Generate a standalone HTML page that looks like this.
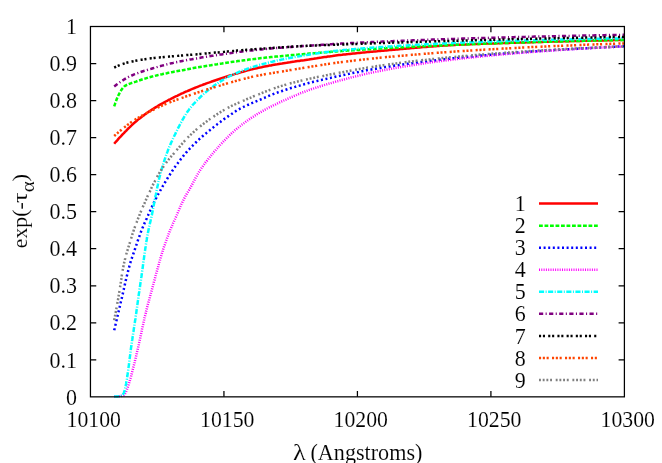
<!DOCTYPE html>
<html><head><meta charset="utf-8"><title>plot</title>
<style>
html,body{margin:0;padding:0;background:#fff;}
svg{display:block;}
text{font-family:"Liberation Serif",serif;font-size:22px;fill:#000;stroke:#fff;stroke-width:0.1px;}
</style></head><body>
<div style="width:662px;height:463px;overflow:hidden;will-change:transform">
<svg width="662" height="463" viewBox="0 0 662 463">
<rect width="662" height="463" fill="#fff"/>
<g fill="none" stroke-width="2.50" stroke-linejoin="round">
<path stroke="#ff0000" d="M114.2 143.7L115.2 142.5L116.3 141.3L117.4 140.1L118.4 138.9L119.5 137.7L120.6 136.6L121.7 135.4L122.8 134.2L123.9 133.1L125 131.9L126.1 130.8L127.2 129.6L128.3 128.5L129.5 127.4L130.6 126.3L131.8 125.2L132.9 124.1L134.1 123L135.3 122L136.5 121L137.8 119.9L139 118.9L140.3 118L141.5 117L142.8 116L144.1 115.1L145.4 114.1L146.7 113.2L148 112.3L149.3 111.4L150.6 110.5L152 109.6L153.3 108.8L154.7 107.9L156 107.1L157.4 106.3L158.8 105.4L160.1 104.6L161.5 103.8L162.9 103.1L164.3 102.3L165.7 101.5L167.1 100.8L168.5 100L170 99.3L171.4 98.6L172.8 97.9L174.2 97.1L175.7 96.4L177.1 95.8L178.5 95.1L180 94.4L181.4 93.7L182.9 93.1L184.3 92.4L185.8 91.7L187.3 91.1L188.7 90.5L190.2 89.8L191.7 89.2L193.1 88.6L194.6 88L196.1 87.4L197.6 86.8L199.1 86.2L200.5 85.6L202 85.1L203.5 84.5L205 84L206.5 83.4L208 82.9L209.5 82.4L211.1 81.8L212.6 81.3L214.1 80.8L215.6 80.3L217.1 79.8L218.6 79.3L220.1 78.8L221.6 78.3L223.2 77.8L224.7 77.3L226.2 76.8L227.7 76.3L229.2 75.8L230.8 75.3L232.3 74.9L233.8 74.4L235.3 73.9L236.9 73.5L238.4 73L239.9 72.6L241.5 72.1L243 71.7L244.5 71.3L246.1 70.9L247.6 70.4L249.2 70L250.7 69.6L252.3 69.3L253.8 68.9L255.4 68.5L256.9 68.2L258.5 67.8L260 67.5L261.6 67.2L263.2 66.8L264.7 66.5L266.3 66.2L267.9 65.9L269.4 65.6L271 65.4L272.6 65.1L274.1 64.8L275.7 64.5L277.3 64.3L278.9 64L280.4 63.7L282 63.5L283.6 63.2L285.2 63L286.7 62.8L288.3 62.5L289.9 62.3L291.5 62L293.1 61.8L294.6 61.6L296.2 61.3L297.8 61.1L299.4 60.9L301 60.6L302.5 60.4L304.1 60.2L305.7 59.9L307.3 59.7L308.8 59.5L310.4 59.2L312 59L313.6 58.8L315.2 58.5L316.7 58.3L318.3 58L319.9 57.8L321.5 57.6L323 57.3L324.6 57.1L326.2 56.9L327.8 56.6L329.4 56.4L330.9 56.2L332.5 56L334.1 55.7L335.7 55.5L337.3 55.3L338.9 55.1L340.4 54.9L342 54.8L343.6 54.6L345.2 54.4L346.8 54.2L348.4 54.1L350 53.9L351.5 53.7L353.1 53.5L354.7 53.4L356.3 53.2L357.9 53.1L359.5 52.9L361.1 52.7L362.7 52.6L364.2 52.4L365.8 52.3L367.4 52.1L369 52L370.6 51.8L372.2 51.7L373.8 51.5L375.4 51.4L377 51.3L378.6 51.1L380.1 51L381.7 50.8L383.3 50.7L384.9 50.5L386.5 50.4L388.1 50.3L389.7 50.1L391.3 50L392.9 49.8L394.4 49.7L396 49.6L397.6 49.4L399.2 49.3L400.8 49.1L402.4 49L404 48.8L405.6 48.7L407.2 48.5L408.8 48.4L410.3 48.3L411.9 48.1L413.5 48L415.1 47.8L416.7 47.7L418.3 47.6L419.9 47.4L421.5 47.3L423.1 47.1L424.7 47L426.2 46.9L427.8 46.8L429.4 46.6L431 46.5L432.6 46.4L434.2 46.3L435.8 46.2L437.4 46.1L439 45.9L440.6 45.8L442.2 45.7L443.8 45.6L445.3 45.5L446.9 45.4L448.5 45.3L450.1 45.2L451.7 45.1L453.3 45L454.9 44.9L456.5 44.8L458.1 44.7L459.7 44.7L461.3 44.6L462.9 44.5L464.5 44.4L466.1 44.4L467.7 44.3L469.3 44.2L470.8 44.2L472.4 44.1L474 44.1L475.6 44L477.2 43.9L478.8 43.9L480.4 43.8L482 43.8L483.6 43.7L485.2 43.7L486.8 43.6L488.4 43.6L490 43.5L491.6 43.5L493.2 43.4L494.8 43.4L496.4 43.3L498 43.2L499.6 43.2L501.2 43.1L502.7 43.1L504.3 43L505.9 43L507.5 42.9L509.1 42.9L510.7 42.8L512.3 42.8L513.9 42.7L515.5 42.7L517.1 42.6L518.7 42.6L520.3 42.5L521.9 42.5L523.5 42.4L525.1 42.4L526.7 42.3L528.3 42.3L529.9 42.2L531.5 42.2L533.1 42.2L534.7 42.1L536.2 42.1L537.8 42L539.4 42L541 41.9L542.6 41.9L544.2 41.8L545.8 41.8L547.4 41.7L549 41.7L550.6 41.7L552.2 41.6L553.8 41.6L555.4 41.5L557 41.5L558.6 41.4L560.2 41.4L561.8 41.4L563.4 41.3L565 41.3L566.6 41.2L568.2 41.2L569.8 41.2L571.3 41.1L572.9 41.1L574.5 41L576.1 41L577.7 41L579.3 40.9L580.9 40.9L582.5 40.8L584.1 40.8L585.7 40.8L587.3 40.7L588.9 40.7L590.5 40.7L592.1 40.6L593.7 40.6L595.3 40.6L596.9 40.5L598.5 40.5L600.1 40.4L601.7 40.4L603.3 40.4L604.9 40.3L606.4 40.3L608 40.3L609.6 40.2L611.2 40.2L612.8 40.2L614.4 40.1L616 40.1L617.6 40.1L619.2 40L620.8 40L622.4 40L624 39.9"/>
<path stroke="#00ff00" stroke-dasharray="3.8 1.7" d="M114.2 106.3L114.7 104.8L115.2 103.3L115.8 101.8L116.3 100.3L116.9 98.8L117.5 97.3L118.2 95.8L118.9 94.4L119.6 93L120.4 91.6L121.2 90.2L122.1 88.9L123.1 87.7L124.2 86.5L125.5 85.6L126.9 84.8L128.4 84.2L129.9 83.6L131.4 83.1L132.9 82.6L134.5 82.1L136 81.6L137.5 81L139 80.5L140.5 80L142 79.5L143.5 79L145.1 78.6L146.6 78.1L148.1 77.6L149.7 77.2L151.2 76.8L152.8 76.4L154.3 76L155.9 75.6L157.4 75.2L159 74.8L160.5 74.5L162.1 74.2L163.7 73.8L165.2 73.5L166.8 73.2L168.4 72.8L169.9 72.5L171.5 72.2L173.1 71.9L174.6 71.6L176.2 71.3L177.8 71L179.4 70.7L180.9 70.4L182.5 70.2L184.1 69.9L185.6 69.6L187.2 69.3L188.8 69L190.4 68.7L191.9 68.4L193.5 68.1L195.1 67.8L196.7 67.5L198.2 67.3L199.8 67L201.4 66.7L203 66.5L204.5 66.2L206.1 65.9L207.7 65.7L209.3 65.4L210.8 65.2L212.4 64.9L214 64.7L215.6 64.4L217.2 64.2L218.8 63.9L220.3 63.7L221.9 63.5L223.5 63.2L225.1 63L226.7 62.7L228.2 62.5L229.8 62.3L231.4 62L233 61.8L234.6 61.6L236.2 61.4L237.7 61.1L239.3 60.9L240.9 60.7L242.5 60.5L244.1 60.3L245.7 60.1L247.2 59.9L248.8 59.6L250.4 59.4L252 59.2L253.6 59.1L255.2 58.9L256.8 58.7L258.4 58.5L259.9 58.3L261.5 58.1L263.1 58L264.7 57.8L266.3 57.6L267.9 57.4L269.5 57.3L271.1 57.1L272.7 56.9L274.3 56.8L275.9 56.6L277.4 56.5L279 56.3L280.6 56.2L282.2 56L283.8 55.9L285.4 55.7L287 55.6L288.6 55.4L290.2 55.3L291.8 55.1L293.4 55L295 54.9L296.6 54.7L298.1 54.6L299.7 54.4L301.3 54.3L302.9 54.2L304.5 54L306.1 53.9L307.7 53.8L309.3 53.6L310.9 53.5L312.5 53.3L314.1 53.2L315.7 53.1L317.3 52.9L318.9 52.8L320.5 52.7L322 52.5L323.6 52.4L325.2 52.3L326.8 52.2L328.4 52L330 51.9L331.6 51.8L333.2 51.7L334.8 51.5L336.4 51.4L338 51.3L339.6 51.2L341.2 51.1L342.8 51L344.4 50.8L346 50.7L347.6 50.6L349.2 50.5L350.8 50.4L352.3 50.3L353.9 50.2L355.5 50.1L357.1 50L358.7 49.9L360.3 49.8L361.9 49.7L363.5 49.6L365.1 49.5L366.7 49.4L368.3 49.3L369.9 49.2L371.5 49.1L373.1 49L374.7 48.9L376.3 48.8L377.9 48.7L379.5 48.6L381.1 48.5L382.7 48.4L384.3 48.3L385.9 48.2L387.5 48.1L389.1 48L390.7 47.9L392.3 47.8L393.9 47.7L395.4 47.7L397 47.6L398.6 47.5L400.2 47.4L401.8 47.3L403.4 47.2L405 47.1L406.6 47.1L408.2 47L409.8 46.9L411.4 46.8L413 46.7L414.6 46.7L416.2 46.6L417.8 46.5L419.4 46.4L421 46.3L422.6 46.3L424.2 46.2L425.8 46.1L427.4 46L429 46L430.6 45.9L432.2 45.8L433.8 45.8L435.4 45.7L437 45.6L438.6 45.5L440.2 45.5L441.8 45.4L443.4 45.3L445 45.3L446.6 45.2L448.2 45.1L449.8 45.1L451.4 45L453 44.9L454.6 44.9L456.2 44.8L457.7 44.7L459.3 44.7L460.9 44.6L462.5 44.5L464.1 44.5L465.7 44.4L467.3 44.4L468.9 44.3L470.5 44.2L472.1 44.2L473.7 44.1L475.3 44L476.9 44L478.5 43.9L480.1 43.9L481.7 43.8L483.3 43.8L484.9 43.7L486.5 43.6L488.1 43.6L489.7 43.5L491.3 43.5L492.9 43.4L494.5 43.4L496.1 43.3L497.7 43.3L499.3 43.2L500.9 43.2L502.5 43.1L504.1 43L505.7 43L507.3 42.9L508.9 42.9L510.5 42.8L512.1 42.8L513.7 42.7L515.3 42.7L516.9 42.6L518.5 42.6L520.1 42.5L521.7 42.5L523.3 42.4L524.9 42.4L526.5 42.3L528.1 42.3L529.7 42.3L531.3 42.2L532.9 42.2L534.5 42.1L536.1 42.1L537.7 42L539.3 42L540.9 41.9L542.5 41.9L544.1 41.8L545.7 41.8L547.3 41.8L548.9 41.7L550.5 41.7L552.1 41.6L553.7 41.6L555.3 41.5L556.8 41.5L558.4 41.5L560 41.4L561.6 41.4L563.2 41.3L564.8 41.3L566.4 41.2L568 41.2L569.6 41.2L571.2 41.1L572.8 41.1L574.4 41L576 41L577.6 41L579.2 40.9L580.8 40.9L582.4 40.9L584 40.8L585.6 40.8L587.2 40.7L588.8 40.7L590.4 40.7L592 40.6L593.6 40.6L595.2 40.6L596.8 40.5L598.4 40.5L600 40.4L601.6 40.4L603.2 40.4L604.8 40.3L606.4 40.3L608 40.3L609.6 40.2L611.2 40.2L612.8 40.2L614.4 40.1L616 40.1L617.6 40.1L619.2 40L620.8 40L622.4 40L624 39.9"/>
<path stroke="#0000ff" stroke-dasharray="2 2.6" d="M114.2 330.2L114.6 328.6L114.9 327.1L115.3 325.5L115.7 324L116.1 322.4L116.4 320.9L116.8 319.3L117.2 317.8L117.5 316.2L117.9 314.7L118.3 313.1L118.6 311.6L119 310L119.4 308.4L119.7 306.9L120.1 305.3L120.5 303.8L120.8 302.2L121.2 300.7L121.5 299.1L121.9 297.6L122.3 296L122.6 294.4L123 292.9L123.3 291.3L123.7 289.8L124 288.2L124.4 286.7L124.7 285.1L125.1 283.5L125.4 282L125.8 280.4L126.1 278.9L126.5 277.3L126.9 275.8L127.3 274.2L127.7 272.7L128.1 271.1L128.5 269.6L128.9 268L129.3 266.5L129.7 264.9L130.2 263.4L130.6 261.9L131.1 260.4L131.6 258.8L132.1 257.3L132.6 255.8L133.2 254.3L133.7 252.8L134.2 251.3L134.7 249.8L135.2 248.3L135.8 246.8L136.3 245.2L136.8 243.7L137.3 242.2L137.8 240.7L138.3 239.2L138.8 237.7L139.4 236.2L139.9 234.7L140.5 233.2L141 231.7L141.6 230.2L142.2 228.7L142.8 227.2L143.5 225.8L144.1 224.3L144.7 222.8L145.4 221.4L146 219.9L146.7 218.5L147.3 217L148 215.5L148.6 214.1L149.3 212.6L149.9 211.2L150.6 209.7L151.2 208.2L151.9 206.8L152.6 205.3L153.2 203.9L153.9 202.5L154.6 201L155.4 199.6L156.1 198.2L156.8 196.8L157.6 195.4L158.3 194L159.1 192.6L159.9 191.2L160.7 189.8L161.5 188.4L162.3 187L163.1 185.6L163.9 184.3L164.7 182.9L165.6 181.5L166.4 180.2L167.2 178.8L168.1 177.4L168.9 176.1L169.8 174.7L170.7 173.4L171.5 172.1L172.4 170.7L173.3 169.4L174.2 168.1L175.1 166.8L176.1 165.5L177 164.2L178 162.9L178.9 161.6L179.9 160.4L180.8 159.1L181.8 157.8L182.8 156.6L183.8 155.4L184.9 154.1L185.9 152.9L187 151.7L188 150.5L189.1 149.4L190.2 148.2L191.3 147L192.4 145.9L193.5 144.8L194.7 143.6L195.8 142.5L197 141.4L198.1 140.3L199.3 139.2L200.5 138.1L201.6 137.1L202.8 136L204 134.9L205.2 133.9L206.5 132.9L207.7 131.9L208.9 130.9L210.2 129.9L211.4 128.9L212.7 127.9L213.9 126.9L215.2 125.9L216.5 124.9L217.7 123.9L219 123L220.3 122L221.5 121L222.8 120.1L224.1 119.1L225.4 118.2L226.7 117.3L228 116.4L229.3 115.5L230.7 114.6L232 113.7L233.3 112.8L234.6 111.9L236 111L237.3 110.2L238.7 109.4L240.1 108.6L241.5 107.9L243 107.2L244.4 106.5L245.8 105.8L247.3 105.1L248.8 104.5L250.2 103.8L251.7 103.2L253.2 102.6L254.6 102L256.1 101.3L257.6 100.7L259 100.1L260.5 99.5L262 98.9L263.5 98.2L264.9 97.6L266.4 97L267.9 96.3L269.3 95.7L270.8 95.1L272.3 94.5L273.8 93.9L275.3 93.3L276.8 92.8L278.3 92.2L279.8 91.7L281.3 91.2L282.8 90.7L284.3 90.2L285.8 89.7L287.3 89.2L288.9 88.7L290.4 88.2L291.9 87.8L293.5 87.3L295 86.9L296.5 86.4L298.1 86L299.6 85.6L301.1 85.1L302.7 84.7L304.2 84.3L305.8 83.9L307.3 83.5L308.8 83L310.4 82.6L311.9 82.2L313.5 81.8L315 81.5L316.6 81.1L318.1 80.7L319.7 80.4L321.3 80L322.8 79.6L324.4 79.3L325.9 78.9L327.5 78.6L329 78.2L330.6 77.9L332.2 77.5L333.7 77.2L335.3 76.8L336.8 76.5L338.4 76.1L339.9 75.8L341.5 75.4L343.1 75.1L344.6 74.8L346.2 74.4L347.8 74.1L349.3 73.8L350.9 73.4L352.4 73.1L354 72.8L355.6 72.5L357.1 72.2L358.7 71.9L360.3 71.5L361.8 71.2L363.4 70.9L365 70.6L366.5 70.3L368.1 70L369.7 69.8L371.3 69.5L372.8 69.2L374.4 68.9L376 68.7L377.6 68.4L379.1 68.1L380.7 67.9L382.3 67.6L383.9 67.4L385.4 67.1L387 66.9L388.6 66.6L390.2 66.4L391.8 66.1L393.3 65.9L394.9 65.6L396.5 65.4L398.1 65.2L399.6 64.9L401.2 64.7L402.8 64.5L404.4 64.3L406 64L407.6 63.8L409.1 63.6L410.7 63.4L412.3 63.2L413.9 62.9L415.5 62.7L417.1 62.5L418.6 62.3L420.2 62.1L421.8 61.9L423.4 61.7L425 61.5L426.6 61.3L428.1 61.1L429.7 60.9L431.3 60.7L432.9 60.6L434.5 60.4L436.1 60.2L437.7 60L439.2 59.8L440.8 59.6L442.4 59.5L444 59.3L445.6 59.1L447.2 58.9L448.8 58.8L450.4 58.6L451.9 58.4L453.5 58.2L455.1 58.1L456.7 57.9L458.3 57.8L459.9 57.6L461.5 57.4L463.1 57.3L464.7 57.1L466.3 57L467.8 56.8L469.4 56.7L471 56.5L472.6 56.4L474.2 56.2L475.8 56.1L477.4 55.9L479 55.8L480.6 55.6L482.2 55.5L483.7 55.3L485.3 55.2L486.9 55.1L488.5 54.9L490.1 54.8L491.7 54.6L493.3 54.5L494.9 54.4L496.5 54.2L498.1 54.1L499.7 54L501.3 53.9L502.8 53.7L504.4 53.6L506 53.5L507.6 53.3L509.2 53.2L510.8 53.1L512.4 53L514 52.9L515.6 52.7L517.2 52.6L518.8 52.5L520.4 52.4L522 52.3L523.5 52.2L525.1 52L526.7 51.9L528.3 51.8L529.9 51.7L531.5 51.6L533.1 51.5L534.7 51.4L536.3 51.3L537.9 51.2L539.5 51L541.1 50.9L542.7 50.8L544.3 50.7L545.9 50.6L547.4 50.5L549 50.4L550.6 50.3L552.2 50.2L553.8 50.1L555.4 50L557 49.9L558.6 49.8L560.2 49.7L561.8 49.6L563.4 49.5L565 49.4L566.6 49.3L568.2 49.2L569.8 49.2L571.4 49.1L573 49L574.6 48.9L576.1 48.8L577.7 48.7L579.3 48.6L580.9 48.5L582.5 48.4L584.1 48.3L585.7 48.3L587.3 48.2L588.9 48.1L590.5 48L592.1 47.9L593.7 47.8L595.3 47.7L596.9 47.7L598.5 47.6L600.1 47.5L601.7 47.4L603.3 47.3L604.9 47.3L606.5 47.2L608 47.1L609.6 47L611.2 46.9L612.8 46.9L614.4 46.8L616 46.7L617.6 46.6L619.2 46.6L620.8 46.5L622.4 46.4L624 46.3"/>
<path stroke="#ff00ff" stroke-dasharray="1 1.3" d="M114.2 396.4L115.8 396.4L117.4 396.4L119 396.3L120.6 396.2L122.1 395.8L123.6 395.2L124.8 394.1L125.7 392.8L126.3 391.3L126.9 389.8L127.4 388.3L127.9 386.8L128.4 385.3L128.9 383.7L129.4 382.2L129.8 380.7L130.2 379.1L130.7 377.6L131.1 376.1L131.5 374.5L131.9 373L132.3 371.4L132.7 369.9L133.1 368.3L133.5 366.8L133.9 365.2L134.3 363.7L134.7 362.1L135 360.5L135.4 359L135.8 357.4L136.2 355.9L136.5 354.3L136.9 352.8L137.2 351.2L137.6 349.6L138 348.1L138.3 346.5L138.7 345L139 343.4L139.4 341.8L139.7 340.3L140.1 338.7L140.4 337.2L140.7 335.6L141.1 334L141.4 332.5L141.7 330.9L142 329.3L142.4 327.8L142.7 326.2L143.1 324.6L143.4 323.1L143.7 321.5L144.1 320L144.4 318.4L144.8 316.8L145.2 315.3L145.6 313.7L145.9 312.2L146.3 310.6L146.7 309.1L147.1 307.5L147.5 306L147.9 304.4L148.3 302.9L148.8 301.3L149.2 299.8L149.6 298.2L150 296.7L150.4 295.2L150.8 293.6L151.3 292.1L151.7 290.5L152.1 289L152.5 287.4L152.9 285.9L153.3 284.3L153.7 282.8L154.1 281.2L154.6 279.7L155 278.2L155.4 276.6L155.8 275.1L156.2 273.5L156.7 272L157.1 270.4L157.5 268.9L158 267.4L158.4 265.8L158.8 264.3L159.2 262.7L159.7 261.2L160.1 259.7L160.5 258.1L161 256.6L161.4 255L161.9 253.5L162.4 252L162.8 250.5L163.3 248.9L163.8 247.4L164.3 245.9L164.9 244.4L165.4 242.9L165.9 241.4L166.5 239.9L167 238.4L167.6 236.9L168.2 235.4L168.7 233.9L169.3 232.4L169.9 230.9L170.5 229.4L171.1 227.9L171.7 226.5L172.4 225L173 223.5L173.7 222.1L174.3 220.6L175 219.1L175.6 217.7L176.3 216.2L176.9 214.8L177.5 213.3L178.2 211.8L178.8 210.4L179.4 208.9L180.1 207.4L180.7 205.9L181.3 204.5L182 203L182.7 201.6L183.4 200.1L184.1 198.7L184.9 197.3L185.6 195.9L186.4 194.5L187.2 193.1L188.1 191.7L188.9 190.4L189.7 189L190.5 187.6L191.2 186.2L192 184.8L192.8 183.4L193.5 182L194.3 180.6L195 179.1L195.7 177.7L196.5 176.3L197.3 174.9L198.1 173.5L198.9 172.1L199.7 170.8L200.6 169.4L201.5 168.1L202.4 166.8L203.3 165.5L204.3 164.2L205.2 162.9L206.2 161.7L207.2 160.4L208.2 159.1L209.2 157.9L210.2 156.6L211.2 155.4L212.2 154.2L213.2 152.9L214.2 151.7L215.3 150.5L216.3 149.3L217.4 148.1L218.4 146.9L219.5 145.7L220.6 144.5L221.7 143.3L222.8 142.2L223.9 141L225 139.9L226.1 138.7L227.2 137.6L228.4 136.5L229.5 135.3L230.7 134.2L231.8 133.1L233 132.1L234.2 131L235.4 129.9L236.6 128.9L237.9 127.9L239.1 126.9L240.4 125.9L241.6 124.9L242.9 123.9L244.2 123L245.5 122L246.8 121.1L248.1 120.1L249.4 119.2L250.7 118.3L252 117.4L253.4 116.6L254.7 115.7L256.1 114.9L257.4 114L258.8 113.2L260.2 112.4L261.6 111.6L263 110.8L264.4 110L265.8 109.3L267.2 108.5L268.6 107.8L270 107.1L271.5 106.3L272.9 105.6L274.3 104.9L275.8 104.3L277.2 103.6L278.7 102.9L280.1 102.2L281.6 101.5L283 100.9L284.5 100.2L286 99.6L287.4 98.9L288.9 98.3L290.3 97.6L291.8 97L293.3 96.3L294.7 95.7L296.2 95.1L297.7 94.4L299.2 93.8L300.6 93.2L302.1 92.6L303.6 92.1L305.1 91.5L306.6 90.9L308.1 90.4L309.6 89.8L311.1 89.3L312.7 88.8L314.2 88.3L315.7 87.8L317.2 87.3L318.7 86.8L320.3 86.3L321.8 85.8L323.3 85.4L324.8 84.9L326.4 84.4L327.9 84L329.4 83.5L331 83.1L332.5 82.6L334 82.2L335.6 81.7L337.1 81.3L338.7 80.9L340.2 80.4L341.7 80L343.3 79.6L344.8 79.2L346.4 78.8L347.9 78.4L349.5 77.9L351 77.5L352.6 77.2L354.1 76.8L355.7 76.4L357.2 76L358.8 75.6L360.3 75.2L361.9 74.8L363.4 74.5L365 74.1L366.6 73.7L368.1 73.4L369.7 73L371.2 72.7L372.8 72.4L374.4 72.1L375.9 71.7L377.5 71.4L379.1 71.1L380.7 70.8L382.2 70.5L383.8 70.2L385.4 69.9L386.9 69.6L388.5 69.3L390.1 69L391.7 68.7L393.2 68.4L394.8 68.1L396.4 67.8L398 67.5L399.5 67.3L401.1 67L402.7 66.7L404.3 66.5L405.8 66.2L407.4 65.9L409 65.7L410.6 65.4L412.2 65.2L413.7 64.9L415.3 64.7L416.9 64.4L418.5 64.2L420.1 64L421.6 63.7L423.2 63.5L424.8 63.3L426.4 63L428 62.8L429.6 62.6L431.1 62.4L432.7 62.1L434.3 61.9L435.9 61.7L437.5 61.5L439.1 61.3L440.7 61.1L442.2 60.9L443.8 60.7L445.4 60.5L447 60.3L448.6 60.1L450.2 59.9L451.8 59.7L453.4 59.5L454.9 59.3L456.5 59.1L458.1 58.9L459.7 58.7L461.3 58.6L462.9 58.4L464.5 58.2L466.1 58L467.7 57.8L469.2 57.7L470.8 57.5L472.4 57.3L474 57.2L475.6 57L477.2 56.8L478.8 56.7L480.4 56.5L482 56.3L483.6 56.2L485.2 56L486.8 55.9L488.3 55.7L489.9 55.5L491.5 55.4L493.1 55.2L494.7 55.1L496.3 54.9L497.9 54.8L499.5 54.7L501.1 54.5L502.7 54.4L504.3 54.2L505.9 54.1L507.5 53.9L509.1 53.8L510.6 53.7L512.2 53.5L513.8 53.4L515.4 53.3L517 53.1L518.6 53L520.2 52.9L521.8 52.8L523.4 52.6L525 52.5L526.6 52.4L528.2 52.3L529.8 52.1L531.4 52L533 51.9L534.6 51.8L536.2 51.7L537.8 51.5L539.4 51.4L541 51.3L542.5 51.2L544.1 51.1L545.7 51L547.3 50.9L548.9 50.7L550.5 50.6L552.1 50.5L553.7 50.4L555.3 50.3L556.9 50.2L558.5 50.1L560.1 50L561.7 49.9L563.3 49.8L564.9 49.7L566.5 49.6L568.1 49.5L569.7 49.4L571.3 49.3L572.9 49.2L574.5 49.1L576.1 49L577.7 48.9L579.3 48.8L580.9 48.7L582.5 48.6L584.1 48.5L585.7 48.4L587.3 48.4L588.9 48.3L590.4 48.2L592 48.1L593.6 48L595.2 47.9L596.8 47.8L598.4 47.7L600 47.7L601.6 47.6L603.2 47.5L604.8 47.4L606.4 47.3L608 47.2L609.6 47.2L611.2 47.1L612.8 47L614.4 46.9L616 46.8L617.6 46.8L619.2 46.7L620.8 46.6L622.4 46.5L624 46.5"/>
<path stroke="#00ffff" stroke-dasharray="5.1 1.5 1 1.5" d="M114.2 396.4L115.8 396.4L117.4 396.4L119 396.3L120.6 396.2L122 395.6L123 394.4L123.8 393L124.3 391.5L124.8 390L125.1 388.4L125.5 386.8L125.8 385.3L126.1 383.7L126.3 382.1L126.6 380.6L126.9 379L127.1 377.4L127.4 375.8L127.6 374.3L127.8 372.7L128.1 371.1L128.3 369.5L128.5 367.9L128.7 366.3L128.9 364.8L129.1 363.2L129.3 361.6L129.5 360L129.7 358.4L129.9 356.8L130.1 355.3L130.3 353.7L130.5 352.1L130.7 350.5L130.9 348.9L131.1 347.3L131.4 345.8L131.6 344.2L131.8 342.6L132 341L132.3 339.4L132.5 337.9L132.7 336.3L133 334.7L133.2 333.1L133.5 331.5L133.7 330L133.9 328.4L134.2 326.8L134.4 325.2L134.7 323.6L134.9 322.1L135.1 320.5L135.4 318.9L135.6 317.3L135.8 315.7L136.1 314.2L136.3 312.6L136.5 311L136.7 309.4L137 307.8L137.2 306.3L137.4 304.7L137.6 303.1L137.8 301.5L138.1 299.9L138.3 298.3L138.5 296.8L138.7 295.2L138.9 293.6L139.2 292L139.4 290.4L139.6 288.9L139.9 287.3L140.1 285.7L140.3 284.1L140.5 282.5L140.8 281L141 279.4L141.2 277.8L141.5 276.2L141.7 274.6L141.9 273.1L142.1 271.5L142.4 269.9L142.6 268.3L142.8 266.7L143 265.2L143.2 263.6L143.4 262L143.7 260.4L143.9 258.8L144.1 257.2L144.3 255.7L144.5 254.1L144.7 252.5L145 250.9L145.2 249.3L145.4 247.8L145.7 246.2L145.9 244.6L146.2 243L146.4 241.4L146.7 239.9L146.9 238.3L147.2 236.7L147.5 235.1L147.8 233.6L148.1 232L148.4 230.4L148.7 228.9L149 227.3L149.4 225.7L149.7 224.2L150.1 222.6L150.5 221.1L150.8 219.5L151.2 218L151.5 216.4L151.9 214.9L152.2 213.3L152.5 211.7L152.8 210.2L153.1 208.6L153.4 207L153.7 205.4L154 203.9L154.3 202.3L154.6 200.7L154.9 199.2L155.2 197.6L155.5 196L155.9 194.5L156.2 192.9L156.5 191.3L156.8 189.8L157.1 188.2L157.4 186.7L157.8 185.1L158.1 183.5L158.4 182L158.8 180.4L159.1 178.8L159.5 177.3L159.9 175.7L160.3 174.2L160.7 172.7L161.1 171.1L161.6 169.6L162 168L162.4 166.5L162.9 165L163.4 163.5L163.9 161.9L164.4 160.4L164.9 158.9L165.4 157.4L165.9 155.9L166.5 154.4L167 152.9L167.6 151.4L168.1 149.9L168.7 148.4L169.3 146.9L170 145.5L170.6 144L171.2 142.5L171.9 141.1L172.6 139.6L173.2 138.2L173.9 136.7L174.6 135.3L175.3 133.9L176 132.4L176.7 131L177.4 129.6L178.1 128.1L178.9 126.7L179.6 125.3L180.3 123.9L181.1 122.5L181.8 121.1L182.6 119.7L183.4 118.3L184.2 116.9L185 115.5L185.9 114.2L186.7 112.8L187.6 111.5L188.6 110.2L189.5 108.9L190.5 107.7L191.5 106.4L192.5 105.2L193.6 104L194.7 102.8L195.8 101.7L196.9 100.5L198 99.4L199.1 98.3L200.3 97.1L201.4 96L202.6 94.9L203.8 93.9L205 92.8L206.2 91.8L207.4 90.7L208.6 89.7L209.9 88.8L211.2 87.8L212.5 86.9L213.8 85.9L215.1 85L216.4 84.1L217.7 83.2L219 82.3L220.4 81.4L221.7 80.6L223.1 79.8L224.5 78.9L225.8 78.2L227.2 77.4L228.7 76.7L230.1 76L231.5 75.3L233 74.6L234.4 73.9L235.9 73.3L237.4 72.7L238.8 72L240.3 71.4L241.8 70.9L243.3 70.3L244.8 69.7L246.3 69.2L247.8 68.6L249.3 68.1L250.8 67.6L252.3 67.1L253.9 66.6L255.4 66.1L256.9 65.7L258.4 65.2L260 64.8L261.5 64.4L263.1 64L264.6 63.6L266.2 63.2L267.7 62.8L269.3 62.4L270.8 62L272.4 61.7L273.9 61.3L275.5 61L277 60.6L278.6 60.3L280.2 59.9L281.7 59.6L283.3 59.3L284.8 58.9L286.4 58.6L288 58.3L289.5 58L291.1 57.7L292.7 57.4L294.3 57.1L295.8 56.8L297.4 56.5L299 56.3L300.5 56L302.1 55.7L303.7 55.5L305.3 55.2L306.8 54.9L308.4 54.7L310 54.4L311.6 54.2L313.1 53.9L314.7 53.7L316.3 53.4L317.9 53.2L319.5 53L321 52.7L322.6 52.5L324.2 52.3L325.8 52.1L327.4 51.9L329 51.7L330.5 51.5L332.1 51.3L333.7 51.1L335.3 50.9L336.9 50.7L338.5 50.6L340.1 50.4L341.7 50.2L343.2 50.1L344.8 49.9L346.4 49.8L348 49.6L349.6 49.5L351.2 49.3L352.8 49.2L354.4 49.1L356 48.9L357.6 48.8L359.1 48.7L360.7 48.6L362.3 48.4L363.9 48.3L365.5 48.2L367.1 48.1L368.7 47.9L370.3 47.8L371.9 47.7L373.5 47.6L375.1 47.5L376.7 47.4L378.3 47.2L379.9 47.1L381.4 47L383 46.9L384.6 46.8L386.2 46.7L387.8 46.6L389.4 46.5L391 46.4L392.6 46.3L394.2 46.1L395.8 46L397.4 45.9L399 45.8L400.6 45.7L402.2 45.6L403.8 45.6L405.3 45.5L406.9 45.4L408.5 45.3L410.1 45.2L411.7 45.1L413.3 45L414.9 44.9L416.5 44.8L418.1 44.7L419.7 44.6L421.3 44.6L422.9 44.5L424.5 44.4L426.1 44.3L427.7 44.2L429.3 44.1L430.9 44.1L432.5 44L434.1 43.9L435.6 43.8L437.2 43.8L438.8 43.7L440.4 43.6L442 43.5L443.6 43.5L445.2 43.4L446.8 43.3L448.4 43.2L450 43.2L451.6 43.1L453.2 43L454.8 43L456.4 42.9L458 42.8L459.6 42.8L461.2 42.7L462.8 42.6L464.4 42.6L466 42.5L467.6 42.4L469.2 42.4L470.7 42.3L472.3 42.3L473.9 42.2L475.5 42.1L477.1 42.1L478.7 42L480.3 42L481.9 41.9L483.5 41.8L485.1 41.8L486.7 41.7L488.3 41.7L489.9 41.6L491.5 41.6L493.1 41.5L494.7 41.5L496.3 41.4L497.9 41.4L499.5 41.3L501.1 41.3L502.7 41.2L504.3 41.1L505.9 41.1L507.5 41L509.1 41L510.6 40.9L512.2 40.9L513.8 40.9L515.4 40.8L517 40.8L518.6 40.7L520.2 40.7L521.8 40.6L523.4 40.6L525 40.5L526.6 40.5L528.2 40.4L529.8 40.4L531.4 40.3L533 40.3L534.6 40.3L536.2 40.2L537.8 40.2L539.4 40.1L541 40.1L542.6 40L544.2 40L545.8 40L547.4 39.9L549 39.9L550.6 39.8L552.2 39.8L553.7 39.8L555.3 39.7L556.9 39.7L558.5 39.6L560.1 39.6L561.7 39.6L563.3 39.5L564.9 39.5L566.5 39.4L568.1 39.4L569.7 39.4L571.3 39.3L572.9 39.3L574.5 39.3L576.1 39.2L577.7 39.2L579.3 39.2L580.9 39.1L582.5 39.1L584.1 39.1L585.7 39L587.3 39L588.9 39L590.5 38.9L592.1 38.9L593.7 38.9L595.3 38.8L596.9 38.8L598.5 38.8L600 38.7L601.6 38.7L603.2 38.7L604.8 38.6L606.4 38.6L608 38.6L609.6 38.5L611.2 38.5L612.8 38.5L614.4 38.4L616 38.4L617.6 38.4L619.2 38.3L620.8 38.3L622.4 38.3L624 38.3"/>
<path stroke="#800080" stroke-dasharray="4.2 2.4 1.1 2.4" d="M114.2 86.5L115.5 85.5L116.7 84.6L118 83.6L119.3 82.7L120.6 81.8L122 80.9L123.3 80L124.7 79.1L126 78.3L127.4 77.5L128.8 76.8L130.3 76.1L131.7 75.5L133.2 74.8L134.7 74.2L136.2 73.6L137.7 73.1L139.2 72.5L140.7 72L142.2 71.5L143.7 71L145.3 70.6L146.8 70.1L148.3 69.6L149.8 69.1L151.4 68.7L152.9 68.2L154.4 67.8L156 67.3L157.5 66.9L159 66.4L160.6 66L162.1 65.6L163.7 65.2L165.2 64.8L166.8 64.4L168.3 64L169.9 63.6L171.4 63.2L173 62.9L174.5 62.5L176.1 62.2L177.7 61.9L179.2 61.5L180.8 61.2L182.4 60.9L183.9 60.6L185.5 60.3L187.1 60L188.7 59.7L190.2 59.4L191.8 59.2L193.4 58.9L195 58.6L196.5 58.4L198.1 58.1L199.7 57.9L201.3 57.6L202.8 57.3L204.4 57.1L206 56.8L207.6 56.6L209.2 56.3L210.7 56.1L212.3 55.8L213.9 55.6L215.5 55.3L217.1 55.1L218.6 54.9L220.2 54.6L221.8 54.4L223.4 54.1L225 53.9L226.5 53.7L228.1 53.5L229.7 53.2L231.3 53L232.9 52.8L234.5 52.6L236 52.3L237.6 52.1L239.2 51.9L240.8 51.7L242.4 51.5L244 51.3L245.6 51.1L247.1 50.9L248.7 50.7L250.3 50.5L251.9 50.4L253.5 50.2L255.1 50L256.7 49.8L258.3 49.7L259.9 49.5L261.4 49.4L263 49.2L264.6 49.1L266.2 48.9L267.8 48.8L269.4 48.6L271 48.5L272.6 48.3L274.2 48.2L275.8 48.1L277.4 47.9L279 47.8L280.6 47.7L282.2 47.6L283.7 47.4L285.3 47.3L286.9 47.2L288.5 47.1L290.1 47L291.7 46.9L293.3 46.7L294.9 46.6L296.5 46.5L298.1 46.4L299.7 46.3L301.3 46.2L302.9 46.1L304.5 46L306.1 45.9L307.7 45.7L309.3 45.6L310.9 45.5L312.5 45.4L314 45.3L315.6 45.2L317.2 45.1L318.8 45L320.4 44.9L322 44.8L323.6 44.7L325.2 44.6L326.8 44.5L328.4 44.4L330 44.3L331.6 44.2L333.2 44.1L334.8 44L336.4 43.9L338 43.8L339.6 43.7L341.2 43.6L342.8 43.5L344.4 43.5L346 43.4L347.6 43.3L349.2 43.2L350.8 43.1L352.4 43L353.9 43L355.5 42.9L357.1 42.8L358.7 42.7L360.3 42.6L361.9 42.6L363.5 42.5L365.1 42.4L366.7 42.3L368.3 42.3L369.9 42.2L371.5 42.1L373.1 42L374.7 42L376.3 41.9L377.9 41.8L379.5 41.8L381.1 41.7L382.7 41.6L384.3 41.5L385.9 41.5L387.5 41.4L389.1 41.3L390.7 41.3L392.3 41.2L393.9 41.1L395.5 41.1L397.1 41L398.7 40.9L400.3 40.9L401.9 40.8L403.5 40.7L405.1 40.7L406.7 40.6L408.3 40.5L409.8 40.5L411.4 40.4L413 40.3L414.6 40.3L416.2 40.2L417.8 40.2L419.4 40.1L421 40L422.6 40L424.2 39.9L425.8 39.9L427.4 39.8L429 39.7L430.6 39.7L432.2 39.6L433.8 39.6L435.4 39.5L437 39.5L438.6 39.4L440.2 39.4L441.8 39.3L443.4 39.2L445 39.2L446.6 39.1L448.2 39.1L449.8 39L451.4 39L453 38.9L454.6 38.9L456.2 38.8L457.8 38.8L459.4 38.7L461 38.7L462.6 38.6L464.2 38.6L465.8 38.5L467.4 38.5L469 38.4L470.6 38.4L472.2 38.3L473.8 38.3L475.4 38.2L477 38.2L478.6 38.1L480.2 38.1L481.7 38L483.3 38L484.9 37.9L486.5 37.9L488.1 37.9L489.7 37.8L491.3 37.8L492.9 37.7L494.5 37.7L496.1 37.6L497.7 37.6L499.3 37.5L500.9 37.5L502.5 37.5L504.1 37.4L505.7 37.4L507.3 37.3L508.9 37.3L510.5 37.2L512.1 37.2L513.7 37.2L515.3 37.1L516.9 37.1L518.5 37L520.1 37L521.7 37L523.3 36.9L524.9 36.9L526.5 36.8L528.1 36.8L529.7 36.8L531.3 36.7L532.9 36.7L534.5 36.6L536.1 36.6L537.7 36.6L539.3 36.5L540.9 36.5L542.5 36.5L544.1 36.4L545.7 36.4L547.3 36.3L548.9 36.3L550.5 36.3L552.1 36.2L553.7 36.2L555.3 36.2L556.9 36.1L558.5 36.1L560.1 36.1L561.7 36L563.3 36L564.9 36L566.5 35.9L568.1 35.9L569.7 35.9L571.3 35.8L572.8 35.8L574.4 35.8L576 35.7L577.6 35.7L579.2 35.7L580.8 35.6L582.4 35.6L584 35.6L585.6 35.5L587.2 35.5L588.8 35.5L590.4 35.4L592 35.4L593.6 35.4L595.2 35.3L596.8 35.3L598.4 35.3L600 35.2L601.6 35.2L603.2 35.2L604.8 35.2L606.4 35.1L608 35.1L609.6 35.1L611.2 35L612.8 35L614.4 35L616 34.9L617.6 34.9L619.2 34.9L620.8 34.9L622.4 34.8L624 34.8"/>
<path stroke="#000000" stroke-dasharray="2.1 1.8 2.1 3.2" d="M114.2 67.6L115.6 66.9L117.1 66.2L118.5 65.6L120 65L121.5 64.4L123 63.9L124.6 63.4L126.1 62.9L127.6 62.5L129.2 62.1L130.7 61.7L132.3 61.4L133.9 61.1L135.4 60.8L137 60.5L138.6 60.2L140.2 59.9L141.7 59.7L143.3 59.4L144.9 59.2L146.5 59L148.1 58.7L149.7 58.5L151.2 58.3L152.8 58.2L154.4 58L156 57.8L157.6 57.6L159.2 57.5L160.8 57.3L162.4 57.2L164 57L165.6 56.8L167.2 56.7L168.7 56.6L170.3 56.4L171.9 56.3L173.5 56.2L175.1 56L176.7 55.9L178.3 55.8L179.9 55.6L181.5 55.5L183.1 55.4L184.7 55.3L186.3 55.1L187.9 55L189.5 54.9L191.1 54.8L192.7 54.6L194.2 54.5L195.8 54.4L197.4 54.2L199 54.1L200.6 53.9L202.2 53.8L203.8 53.7L205.4 53.5L207 53.4L208.6 53.2L210.2 53.1L211.8 52.9L213.4 52.8L215 52.6L216.6 52.5L218.1 52.4L219.7 52.2L221.3 52.1L222.9 51.9L224.5 51.8L226.1 51.6L227.7 51.5L229.3 51.3L230.9 51.2L232.5 51.1L234.1 50.9L235.7 50.8L237.3 50.6L238.9 50.5L240.4 50.4L242 50.2L243.6 50.1L245.2 50L246.8 49.8L248.4 49.7L250 49.6L251.6 49.4L253.2 49.3L254.8 49.2L256.4 49.1L258 48.9L259.6 48.8L261.2 48.7L262.8 48.6L264.4 48.5L266 48.4L267.6 48.3L269.1 48.2L270.7 48L272.3 47.9L273.9 47.8L275.5 47.7L277.1 47.6L278.7 47.5L280.3 47.4L281.9 47.3L283.5 47.2L285.1 47.1L286.7 47L288.3 46.9L289.9 46.8L291.5 46.7L293.1 46.6L294.7 46.5L296.3 46.4L297.9 46.3L299.5 46.2L301.1 46.1L302.7 46.1L304.3 46L305.9 45.9L307.5 45.8L309.1 45.7L310.7 45.7L312.3 45.6L313.9 45.5L315.5 45.5L317 45.4L318.6 45.3L320.2 45.3L321.8 45.2L323.4 45.1L325 45.1L326.6 45L328.2 45L329.8 44.9L331.4 44.8L333 44.8L334.6 44.7L336.2 44.7L337.8 44.6L339.4 44.6L341 44.5L342.6 44.4L344.2 44.4L345.8 44.3L347.4 44.3L349 44.2L350.6 44.1L352.2 44.1L353.8 44L355.4 44L357 43.9L358.6 43.9L360.2 43.8L361.8 43.7L363.4 43.7L365 43.6L366.6 43.6L368.2 43.5L369.8 43.5L371.4 43.4L373 43.4L374.6 43.3L376.2 43.2L377.8 43.2L379.4 43.1L381 43.1L382.6 43L384.2 43L385.8 42.9L387.4 42.9L389 42.8L390.6 42.8L392.2 42.7L393.8 42.6L395.4 42.6L397 42.5L398.6 42.5L400.2 42.4L401.8 42.4L403.4 42.3L405 42.3L406.6 42.2L408.2 42.2L409.8 42.1L411.4 42.1L413 42L414.5 42L416.1 41.9L417.7 41.9L419.3 41.8L420.9 41.8L422.5 41.7L424.1 41.7L425.7 41.6L427.3 41.6L428.9 41.5L430.5 41.5L432.1 41.4L433.7 41.4L435.3 41.3L436.9 41.3L438.5 41.2L440.1 41.2L441.7 41.1L443.3 41.1L444.9 41L446.5 41L448.1 40.9L449.7 40.9L451.3 40.9L452.9 40.8L454.5 40.8L456.1 40.7L457.7 40.7L459.3 40.6L460.9 40.6L462.5 40.5L464.1 40.5L465.7 40.4L467.3 40.4L468.9 40.4L470.5 40.3L472.1 40.3L473.7 40.2L475.3 40.2L476.9 40.1L478.5 40.1L480.1 40.1L481.7 40L483.3 40L484.9 39.9L486.5 39.9L488.1 39.8L489.7 39.8L491.3 39.8L492.9 39.7L494.5 39.7L496.1 39.6L497.7 39.6L499.3 39.6L500.9 39.5L502.5 39.5L504.1 39.4L505.7 39.4L507.3 39.4L508.9 39.3L510.5 39.3L512.1 39.2L513.7 39.2L515.3 39.2L516.9 39.1L518.5 39.1L520.1 39L521.7 39L523.3 39L524.9 38.9L526.5 38.9L528.1 38.9L529.7 38.8L531.3 38.8L532.9 38.7L534.5 38.7L536.1 38.7L537.7 38.6L539.3 38.6L540.9 38.6L542.5 38.5L544 38.5L545.6 38.5L547.2 38.4L548.8 38.4L550.4 38.3L552 38.3L553.6 38.3L555.2 38.2L556.8 38.2L558.4 38.2L560 38.1L561.6 38.1L563.2 38.1L564.8 38L566.4 38L568 38L569.6 37.9L571.2 37.9L572.8 37.9L574.4 37.8L576 37.8L577.6 37.8L579.2 37.7L580.8 37.7L582.4 37.7L584 37.6L585.6 37.6L587.2 37.6L588.8 37.5L590.4 37.5L592 37.5L593.6 37.4L595.2 37.4L596.8 37.4L598.4 37.4L600 37.3L601.6 37.3L603.2 37.3L604.8 37.2L606.4 37.2L608 37.2L609.6 37.1L611.2 37.1L612.8 37.1L614.4 37L616 37L617.6 37L619.2 37L620.8 36.9L622.4 36.9L624 36.9"/>
<path stroke="#ff4500" stroke-dasharray="2.1 1.7 2.1 1.7 2.1 3.3" d="M114.2 136L115.4 134.9L116.6 133.9L117.8 132.8L119 131.8L120.2 130.8L121.5 129.7L122.7 128.7L123.9 127.7L125.2 126.8L126.5 125.8L127.7 124.8L129 123.9L130.3 122.9L131.6 122L133 121.1L134.3 120.3L135.6 119.4L137 118.5L138.4 117.7L139.7 116.9L141.1 116.1L142.5 115.3L143.9 114.5L145.3 113.8L146.7 113L148.1 112.3L149.6 111.6L151 110.9L152.4 110.2L153.9 109.5L155.3 108.8L156.7 108.1L158.2 107.4L159.6 106.7L161.1 106.1L162.5 105.4L164 104.8L165.5 104.2L167 103.5L168.4 102.9L169.9 102.3L171.4 101.7L172.9 101.2L174.4 100.6L175.9 100L177.4 99.5L178.9 99L180.4 98.4L181.9 97.9L183.4 97.4L184.9 96.8L186.4 96.3L187.9 95.8L189.4 95.3L190.9 94.8L192.5 94.3L194 93.7L195.5 93.2L197 92.7L198.5 92.2L200 91.8L201.6 91.3L203.1 90.8L204.6 90.3L206.1 89.8L207.6 89.3L209.2 88.9L210.7 88.4L212.2 87.9L213.8 87.4L215.3 87L216.8 86.5L218.3 86L219.9 85.6L221.4 85.1L222.9 84.6L224.4 84.2L226 83.7L227.5 83.3L229 82.8L230.6 82.4L232.1 82L233.7 81.5L235.2 81.1L236.7 80.7L238.3 80.3L239.8 79.9L241.4 79.5L242.9 79.1L244.5 78.7L246 78.3L247.6 77.9L249.1 77.6L250.7 77.2L252.2 76.8L253.8 76.5L255.4 76.2L256.9 75.8L258.5 75.5L260 75.2L261.6 74.9L263.2 74.6L264.8 74.3L266.3 74L267.9 73.8L269.5 73.5L271.1 73.3L272.6 73L274.2 72.7L275.8 72.5L277.4 72.2L278.9 72L280.5 71.7L282.1 71.5L283.7 71.2L285.2 70.9L286.8 70.7L288.4 70.4L290 70.1L291.5 69.9L293.1 69.6L294.7 69.3L296.3 69.1L297.8 68.8L299.4 68.6L301 68.3L302.6 68.1L304.1 67.8L305.7 67.5L307.3 67.3L308.9 67L310.5 66.8L312 66.5L313.6 66.3L315.2 66L316.8 65.8L318.3 65.5L319.9 65.3L321.5 65L323.1 64.8L324.6 64.5L326.2 64.3L327.8 64L329.4 63.8L331 63.6L332.5 63.3L334.1 63.1L335.7 62.9L337.3 62.6L338.9 62.4L340.4 62.2L342 62L343.6 61.8L345.2 61.6L346.8 61.4L348.4 61.2L350 61L351.5 60.9L353.1 60.7L354.7 60.5L356.3 60.3L357.9 60.1L359.5 60L361.1 59.8L362.7 59.6L364.2 59.4L365.8 59.3L367.4 59.1L369 58.9L370.6 58.8L372.2 58.6L373.8 58.4L375.4 58.3L376.9 58.1L378.5 57.9L380.1 57.8L381.7 57.6L383.3 57.5L384.9 57.3L386.5 57.1L388.1 57L389.7 56.8L391.2 56.7L392.8 56.5L394.4 56.4L396 56.2L397.6 56.1L399.2 55.9L400.8 55.8L402.4 55.7L404 55.5L405.6 55.4L407.2 55.2L408.7 55.1L410.3 55L411.9 54.8L413.5 54.7L415.1 54.6L416.7 54.4L418.3 54.3L419.9 54.2L421.5 54L423.1 53.9L424.7 53.8L426.3 53.6L427.8 53.5L429.4 53.4L431 53.3L432.6 53.2L434.2 53L435.8 52.9L437.4 52.8L439 52.7L440.6 52.6L442.2 52.4L443.8 52.3L445.4 52.2L447 52.1L448.5 52L450.1 51.9L451.7 51.8L453.3 51.7L454.9 51.5L456.5 51.4L458.1 51.3L459.7 51.2L461.3 51.1L462.9 51L464.5 50.9L466.1 50.8L467.7 50.7L469.3 50.6L470.9 50.5L472.5 50.4L474 50.3L475.6 50.2L477.2 50.1L478.8 50L480.4 49.9L482 49.8L483.6 49.7L485.2 49.6L486.8 49.5L488.4 49.4L490 49.3L491.6 49.2L493.2 49.2L494.8 49.1L496.4 49L498 48.9L499.6 48.8L501.1 48.7L502.7 48.6L504.3 48.5L505.9 48.4L507.5 48.4L509.1 48.3L510.7 48.2L512.3 48.1L513.9 48L515.5 47.9L517.1 47.9L518.7 47.8L520.3 47.7L521.9 47.6L523.5 47.5L525.1 47.5L526.7 47.4L528.3 47.3L529.9 47.2L531.5 47.1L533 47.1L534.6 47L536.2 46.9L537.8 46.8L539.4 46.8L541 46.7L542.6 46.6L544.2 46.5L545.8 46.5L547.4 46.4L549 46.3L550.6 46.2L552.2 46.2L553.8 46.1L555.4 46L557 46L558.6 45.9L560.2 45.8L561.8 45.8L563.4 45.7L565 45.6L566.5 45.6L568.1 45.5L569.7 45.4L571.3 45.4L572.9 45.3L574.5 45.2L576.1 45.2L577.7 45.1L579.3 45L580.9 45L582.5 44.9L584.1 44.8L585.7 44.8L587.3 44.7L588.9 44.6L590.5 44.6L592.1 44.5L593.7 44.5L595.3 44.4L596.9 44.3L598.5 44.3L600.1 44.2L601.7 44.2L603.3 44.1L604.8 44L606.4 44L608 43.9L609.6 43.9L611.2 43.8L612.8 43.8L614.4 43.7L616 43.6L617.6 43.6L619.2 43.5L620.8 43.5L622.4 43.4L624 43.4"/>
<path stroke="#808080" stroke-dasharray="1.9 1.8 1.9 1.8 1.9 1.8 1.9 3.7" d="M114.2 320.2L114.5 318.6L114.8 317.1L115.1 315.5L115.4 313.9L115.7 312.4L116 310.8L116.3 309.2L116.6 307.6L116.9 306.1L117.2 304.5L117.4 302.9L117.7 301.3L118 299.8L118.3 298.2L118.5 296.6L118.8 295L119.1 293.5L119.3 291.9L119.6 290.3L119.8 288.7L120.1 287.1L120.3 285.6L120.6 284L120.8 282.4L121 280.8L121.3 279.2L121.5 277.6L121.7 276.1L122 274.5L122.3 272.9L122.5 271.3L122.8 269.8L123.1 268.2L123.4 266.6L123.7 265L124 263.5L124.3 261.9L124.7 260.4L125.1 258.8L125.4 257.2L125.9 255.7L126.3 254.2L126.7 252.6L127.2 251.1L127.7 249.6L128.2 248L128.7 246.5L129.1 245L129.6 243.5L130.1 241.9L130.5 240.4L131 238.9L131.5 237.4L132 235.8L132.4 234.3L132.9 232.8L133.4 231.3L133.9 229.7L134.5 228.2L135 226.7L135.5 225.2L136.1 223.7L136.7 222.2L137.2 220.7L137.8 219.2L138.4 217.7L139 216.3L139.6 214.8L140.2 213.3L140.8 211.8L141.4 210.3L142 208.9L142.6 207.4L143.3 205.9L143.9 204.5L144.6 203L145.2 201.5L145.9 200.1L146.5 198.6L147.2 197.2L147.8 195.7L148.5 194.3L149.2 192.8L149.9 191.4L150.6 189.9L151.2 188.5L151.9 187L152.6 185.6L153.3 184.1L154 182.7L154.8 181.3L155.5 179.9L156.2 178.5L157 177.1L157.8 175.7L158.6 174.3L159.4 172.9L160.3 171.5L161.1 170.2L162 168.8L162.8 167.5L163.7 166.2L164.6 164.9L165.6 163.6L166.5 162.3L167.5 161L168.5 159.7L169.5 158.5L170.5 157.3L171.5 156.1L172.6 154.9L173.7 153.7L174.7 152.5L175.8 151.2L176.8 150L177.8 148.8L178.9 147.6L179.9 146.4L180.9 145.1L182 143.9L183 142.7L184.1 141.5L185.1 140.3L186.2 139.1L187.3 138L188.4 136.9L189.6 135.7L190.8 134.6L191.9 133.6L193.1 132.5L194.3 131.4L195.5 130.3L196.7 129.3L197.9 128.3L199.2 127.3L200.4 126.2L201.7 125.2L202.9 124.3L204.2 123.3L205.5 122.3L206.8 121.4L208 120.4L209.3 119.5L210.7 118.6L212 117.7L213.3 116.8L214.6 115.9L216 115L217.3 114.1L218.6 113.3L220 112.4L221.4 111.6L222.7 110.8L224.1 110L225.5 109.2L226.9 108.4L228.3 107.6L229.7 106.9L231.1 106.1L232.6 105.4L234 104.7L235.5 104.1L236.9 103.4L238.4 102.8L239.9 102.2L241.3 101.5L242.8 100.9L244.3 100.3L245.7 99.6L247.2 99L248.7 98.4L250.2 97.8L251.6 97.2L253.1 96.5L254.6 95.9L256.1 95.4L257.6 94.8L259.1 94.2L260.5 93.6L262 93L263.5 92.4L265 91.8L266.5 91.2L268 90.7L269.5 90.1L271 89.5L272.5 89L274 88.4L275.5 87.9L277 87.4L278.5 86.9L280 86.4L281.6 85.9L283.1 85.5L284.6 85L286.2 84.6L287.7 84.1L289.3 83.7L290.8 83.3L292.3 82.9L293.9 82.5L295.4 82.1L297 81.7L298.5 81.3L300.1 80.9L301.7 80.6L303.2 80.2L304.8 79.8L306.3 79.5L307.9 79.1L309.4 78.8L311 78.4L312.6 78.1L314.1 77.8L315.7 77.4L317.3 77.1L318.8 76.8L320.4 76.5L322 76.2L323.5 75.9L325.1 75.6L326.7 75.2L328.3 74.9L329.8 74.6L331.4 74.3L333 74L334.5 73.7L336.1 73.4L337.7 73.1L339.2 72.8L340.8 72.5L342.4 72.2L343.9 71.9L345.5 71.6L347.1 71.3L348.7 71L350.2 70.7L351.8 70.4L353.4 70.1L354.9 69.8L356.5 69.5L358.1 69.2L359.7 68.9L361.2 68.7L362.8 68.4L364.4 68.1L366 67.9L367.6 67.6L369.1 67.4L370.7 67.1L372.3 66.9L373.9 66.6L375.5 66.4L377 66.1L378.6 65.9L380.2 65.7L381.8 65.4L383.4 65.2L384.9 65L386.5 64.7L388.1 64.5L389.7 64.3L391.3 64.1L392.9 63.9L394.4 63.6L396 63.4L397.6 63.2L399.2 63L400.8 62.8L402.4 62.6L404 62.4L405.5 62.2L407.1 62L408.7 61.8L410.3 61.6L411.9 61.4L413.5 61.2L415.1 61L416.7 60.8L418.2 60.7L419.8 60.5L421.4 60.3L423 60.1L424.6 59.9L426.2 59.8L427.8 59.6L429.4 59.4L431 59.2L432.6 59.1L434.1 58.9L435.7 58.7L437.3 58.6L438.9 58.4L440.5 58.3L442.1 58.1L443.7 57.9L445.3 57.8L446.9 57.6L448.5 57.5L450.1 57.3L451.6 57.2L453.2 57L454.8 56.9L456.4 56.7L458 56.6L459.6 56.4L461.2 56.3L462.8 56.1L464.4 56L466 55.9L467.6 55.7L469.2 55.6L470.8 55.4L472.4 55.3L473.9 55.2L475.5 55L477.1 54.9L478.7 54.8L480.3 54.6L481.9 54.5L483.5 54.4L485.1 54.3L486.7 54.1L488.3 54L489.9 53.9L491.5 53.8L493.1 53.6L494.7 53.5L496.3 53.4L497.9 53.3L499.5 53.2L501.1 53.1L502.6 52.9L504.2 52.8L505.8 52.7L507.4 52.6L509 52.5L510.6 52.4L512.2 52.3L513.8 52.2L515.4 52.1L517 52L518.6 51.8L520.2 51.7L521.8 51.6L523.4 51.5L525 51.4L526.6 51.3L528.2 51.2L529.8 51.1L531.4 51L533 50.9L534.6 50.8L536.2 50.7L537.8 50.6L539.3 50.5L540.9 50.4L542.5 50.3L544.1 50.2L545.7 50.2L547.3 50.1L548.9 50L550.5 49.9L552.1 49.8L553.7 49.7L555.3 49.6L556.9 49.5L558.5 49.4L560.1 49.3L561.7 49.3L563.3 49.2L564.9 49.1L566.5 49L568.1 48.9L569.7 48.8L571.3 48.8L572.9 48.7L574.5 48.6L576.1 48.5L577.7 48.4L579.3 48.3L580.9 48.3L582.5 48.2L584.1 48.1L585.7 48L587.3 48L588.9 47.9L590.5 47.8L592 47.7L593.6 47.7L595.2 47.6L596.8 47.5L598.4 47.4L600 47.4L601.6 47.3L603.2 47.2L604.8 47.1L606.4 47.1L608 47L609.6 46.9L611.2 46.9L612.8 46.8L614.4 46.7L616 46.6L617.6 46.6L619.2 46.5L620.8 46.4L622.4 46.4L624 46.3"/>
<path stroke="#ff0000" d="M539 203.60H598"/>
<path stroke="#00ff00" stroke-dasharray="3.8 1.7" d="M539 225.65H598"/>
<path stroke="#0000ff" stroke-dasharray="2 2.6" d="M539 247.70H598"/>
<path stroke="#ff00ff" stroke-dasharray="1 1.3" d="M539 269.75H598"/>
<path stroke="#00ffff" stroke-dasharray="5.1 1.5 1 1.5" d="M539 291.80H598"/>
<path stroke="#800080" stroke-dasharray="4.2 2.4 1.1 2.4" d="M539 313.85H598"/>
<path stroke="#000000" stroke-dasharray="2.1 1.8 2.1 3.2" d="M539 335.90H598"/>
<path stroke="#ff4500" stroke-dasharray="2.1 1.7 2.1 1.7 2.1 3.3" d="M539 357.95H598"/>
<path stroke="#808080" stroke-dasharray="1.9 1.8 1.9 1.8 1.9 1.8 1.9 3.7" d="M539 380.00H598"/>
</g>
<g fill="none" stroke="#000" stroke-width="1.25">
<rect x="90.45" y="26.50" width="533.95" height="370.35"/>
<path d="M90.45 359.81h5.80M624.40 359.81h-5.80M90.45 322.78h5.80M624.40 322.78h-5.80M90.45 285.75h5.80M624.40 285.75h-5.80M90.45 248.71h5.80M624.40 248.71h-5.80M90.45 211.68h5.80M624.40 211.68h-5.80M90.45 174.64h5.80M624.40 174.64h-5.80M90.45 137.61h5.80M624.40 137.61h-5.80M90.45 100.57h5.80M624.40 100.57h-5.80M90.45 63.54h5.80M624.40 63.54h-5.80M223.94 396.85v-5.80M223.94 26.50v5.80M357.42 396.85v-5.80M357.42 26.50v5.80M490.91 396.85v-5.80M490.91 26.50v5.80"/>
</g>
<filter id="ga" x="0" y="0" width="662" height="463" filterUnits="userSpaceOnUse"><feOffset dx="0" dy="0"/></filter>
<g filter="url(#ga)">
<g text-anchor="end">
<text transform="translate(76.90 404.75) scale(1.000 1.085)" text-anchor="end">0</text>
<text transform="translate(76.90 367.51) scale(1.000 1.085)" text-anchor="end">0.1</text>
<text transform="translate(76.90 330.48) scale(1.000 1.085)" text-anchor="end">0.2</text>
<text transform="translate(76.90 293.44) scale(1.000 1.085)" text-anchor="end">0.3</text>
<text transform="translate(76.90 256.41) scale(1.000 1.085)" text-anchor="end">0.4</text>
<text transform="translate(76.90 219.38) scale(1.000 1.085)" text-anchor="end">0.5</text>
<text transform="translate(76.90 182.34) scale(1.000 1.085)" text-anchor="end">0.6</text>
<text transform="translate(76.90 145.31) scale(1.000 1.085)" text-anchor="end">0.7</text>
<text transform="translate(76.90 108.27) scale(1.000 1.085)" text-anchor="end">0.8</text>
<text transform="translate(76.90 71.24) scale(1.000 1.085)" text-anchor="end">0.9</text>
<text transform="translate(76.90 33.50) scale(1.000 1.085)" text-anchor="end">1</text>
<text transform="translate(525.80 211.20) scale(1.000 1.085)" text-anchor="end">1</text>
<text transform="translate(525.80 233.25) scale(1.000 1.085)" text-anchor="end">2</text>
<text transform="translate(525.80 255.30) scale(1.000 1.085)" text-anchor="end">3</text>
<text transform="translate(525.80 277.35) scale(1.000 1.085)" text-anchor="end">4</text>
<text transform="translate(525.80 299.40) scale(1.000 1.085)" text-anchor="end">5</text>
<text transform="translate(525.80 321.45) scale(1.000 1.085)" text-anchor="end">6</text>
<text transform="translate(525.80 343.50) scale(1.000 1.085)" text-anchor="end">7</text>
<text transform="translate(525.80 365.55) scale(1.000 1.085)" text-anchor="end">8</text>
<text transform="translate(525.80 387.60) scale(1.000 1.085)" text-anchor="end">9</text>
</g>
<g text-anchor="middle">
<text transform="translate(93.75 427.00) scale(0.990 1.085)" text-anchor="middle">10100</text>
<text transform="translate(227.24 427.00) scale(0.990 1.085)" text-anchor="middle">10150</text>
<text transform="translate(360.72 427.00) scale(0.990 1.085)" text-anchor="middle">10200</text>
<text transform="translate(494.21 427.00) scale(0.990 1.085)" text-anchor="middle">10250</text>
<text transform="translate(627.70 427.00) scale(0.990 1.085)" text-anchor="middle">10300</text>
<text transform="translate(293.00 459.60) scale(1.200 1.085)" text-anchor="start">λ</text>
<text transform="translate(422.40 459.60) scale(1.007 1.085)" text-anchor="end">(Angstroms)</text>
<text transform="translate(27.30 248.20) rotate(-90) scale(0.990 1.000)" text-anchor="start" style="font-size:22.0px">exp(-</text>
<text transform="translate(27.30 203.00) rotate(-90) scale(1.200 1.000)" text-anchor="start" style="font-size:22.0px">τ</text>
<text transform="translate(33.60 192.30) rotate(-90) scale(1.200 1.050)" text-anchor="start" style="font-size:17.6px">α</text>
<text transform="translate(27.30 181.50) rotate(-90) scale(1.025 1.000)" text-anchor="start" style="font-size:22.0px">)</text>
</g>
</g>
</svg>
</div>
</body></html>
